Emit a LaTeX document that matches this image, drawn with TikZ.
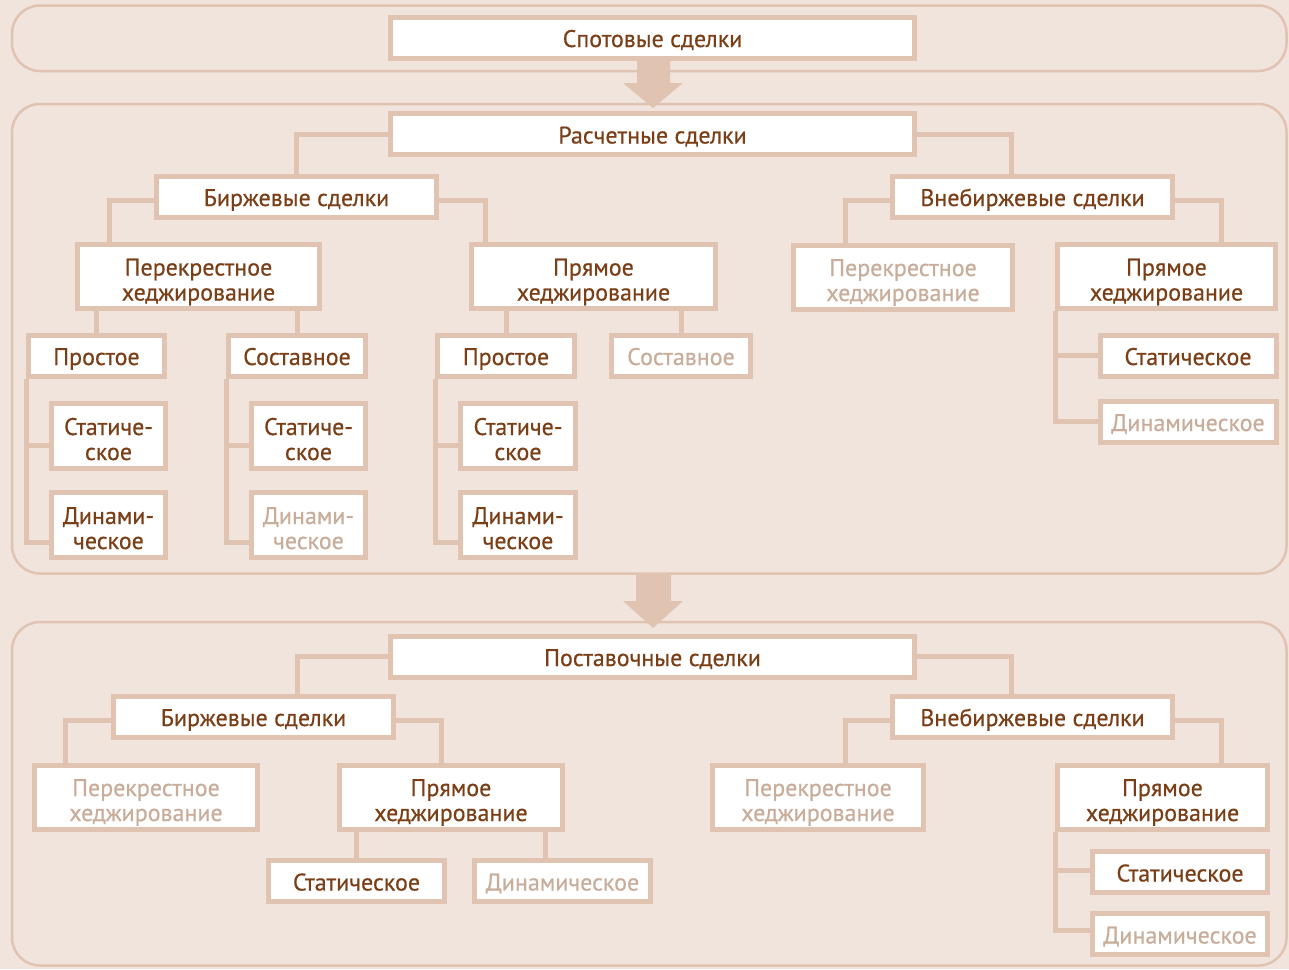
\documentclass[tikz,border=0pt]{standalone}
\usepackage{fontspec}
\setmainfont{PT Sans}
\newfontfamily\boxfont{PT Sans}[FakeBold=0.5]
\usetikzlibrary{calc}
\definecolor{bgc}{HTML}{F0E4DD}
\definecolor{brd}{HTML}{E0C4B1}
\definecolor{txt}{HTML}{7B3F17}
\definecolor{fad}{HTML}{C9AD9B}
\pgfdeclarelayer{back}
\pgfdeclarelayer{mid}
\pgfsetlayers{back,mid,main}
\begin{document}
\begin{tikzpicture}[x=1pt,y=-1pt,
 box/.style={draw=brd, line width=5pt, fill=white, text=txt,
   font=\boxfont\fontsize{24}{25}\selectfont, align=center, inner sep=0pt,
   minimum height=41pt, text height=19pt, text depth=0pt},
 tall/.style={minimum height=64pt, text height=48pt, text depth=0pt},
 faded/.style={text=fad},
 conn/.style={draw=brd, line width=5pt},
 frm/.style={draw=brd, line width=2.5pt, rounded corners=28pt}]
\useasboundingbox (0,0) rectangle (1289,969);

% ---------- nodes ----------
\node[box, minimum width=524pt] (spot) at (652.5,37.5) {Спотовые сделки};
\node[box, minimum width=524pt] (rasch) at (652.5,134) {Расчетные сделки};
\node[box, minimum width=280pt] (birzh1) at (296.5,196.5) {Биржевые сделки};
\node[box, minimum width=280pt] (vneb1) at (1032.5,196.5) {Внебиржевые сделки};
\node[box, tall, minimum width=242pt] (perekr1) at (198.5,276.5) {Перекрестное\\хеджирование};
\node[box, tall, minimum width=244pt] (pryam1) at (593.5,276.5) {Прямое\\хеджирование};
\node[box, tall, faded, minimum width=219pt] (perekr2) at (903,277) {Перекрестное\\хеджирование};
\node[box, tall, minimum width=218pt] (pryam2) at (1166.5,276.5) {Прямое\\хеджирование};
\node[box, minimum width=136pt] (prost1) at (96.5,355.5) {Простое};
\node[box, tall, minimum height=65pt, minimum width=114pt] (stat1) at (108.5,436) {Статиче-\\ское};
\node[box, tall, minimum height=65pt, minimum width=114pt] (din1) at (108.5,525) {Динами-\\ческое};
\node[box, minimum width=137pt] (sost1) at (297,355.5) {Составное};
\node[box, tall, minimum height=65pt, minimum width=114pt] (stat2) at (308.5,436) {Статиче-\\ское};
\node[box, tall, faded, minimum height=65pt, minimum width=114pt] (din2) at (308.5,525) {Динами-\\ческое};
\node[box, minimum width=137pt] (prost2) at (506,355.5) {Простое};
\node[box, tall, minimum height=65pt, minimum width=115pt] (stat3) at (518,436) {Статиче-\\ское};
\node[box, tall, minimum height=65pt, minimum width=115pt] (din3) at (518,525) {Динами-\\ческое};
\node[box, faded, minimum width=139pt] (sost2) at (681,355.5) {Составное};
\node[box, minimum width=176pt] (stat4) at (1188,355.5) {Статическое};
\node[box, faded, minimum width=176pt] (din4) at (1188,421.5) {Динамическое};

\node[box, minimum width=524pt] (post) at (652.5,656.5) {Поставочные сделки};
\node[box, minimum width=280pt] (birzh2) at (253.5,716.5) {Биржевые сделки};
\node[box, minimum width=280pt] (vneb2) at (1032.5,716.5) {Внебиржевые сделки};
\node[box, tall, faded, minimum width=223pt] (perekr3) at (146,797) {Перекрестное\\хеджирование};
\node[box, tall, minimum width=223pt] (pryam3) at (451,797) {Прямое\\хеджирование};
\node[box, tall, faded, minimum width=211pt] (perekr4) at (818,797) {Перекрестное\\хеджирование};
\node[box, tall, minimum width=210pt] (pryam4) at (1162.5,797) {Прямое\\хеджирование};
\node[box, minimum width=176pt] (stat5) at (356.5,881) {Статическое};
\node[box, faded, minimum width=176pt] (din5) at (562.5,881) {Динамическое};
\node[box, minimum width=175pt] (stat6) at (1180,872) {Статическое};
\node[box, faded, minimum width=175pt] (din6) at (1180,934) {Динамическое};

% ---------- background and frames ----------
\begin{pgfonlayer}{back}
\fill[bgc] (0,0) rectangle (1289,969);
\draw[frm] (12,5.5) rectangle (1286.5,71);
\draw[frm] (12,104) rectangle (1286.5,573.5);
\draw[frm] (12,622) rectangle (1286.5,965.5);
\end{pgfonlayer}

% ---------- connectors ----------
\begin{pgfonlayer}{mid}
% arrows
\fill[brd] (637,60) -- (670,60) -- (670,83) -- (683,83) -- (653,108) -- (623,83) -- (637,83) -- cycle;
\fill[brd] (636,574) -- (671,574) -- (671,601) -- (683,601) -- (653,628) -- (623,601) -- (636,601) -- cycle;

% top block
\coordinate (cv1) at ($(vneb1.north)+(-21.5,0)$);
\draw[conn] (rasch.west) -| (birzh1.north);
\draw[conn] (rasch.east) -| (cv1);
\coordinate (b1l) at ($(birzh1.west)+(0,3.5)$);
\coordinate (b1r) at ($(birzh1.east)+(0,3.5)$);
\coordinate (p1t) at ($(perekr1.north)+(-89.5,0)$);
\coordinate (q1t) at ($(pryam1.north)+(-108.5,0)$);
\draw[conn] (b1l) -| (p1t);
\draw[conn] (b1r) -| (q1t);
\coordinate (v1l) at ($(vneb1.west)+(0,3.5)$);
\coordinate (v1r) at ($(vneb1.east)+(0,3.5)$);
\coordinate (p2t) at ($(perekr2.north)+(-58,0)$);
\coordinate (q2t) at ($(pryam2.north)+(54.5,0)$);
\draw[conn] (v1l) -| (p2t);
\draw[conn] (v1r) -| (q2t);
\draw[conn] (prost1.north) -- (prost1.north |- perekr1.south);
\draw[conn] (sost1.north) -- (sost1.north |- perekr1.south);
\draw[conn] (prost2.north) -- (prost2.north |- pryam1.south);
\draw[conn] (sost2.north) -- (sost2.north |- pryam1.south);
% trunks
\coordinate (s1) at ($(stat1.west)+(0,9)$);
\coordinate (d1) at ($(din1.west)+(0,17)$);
\draw[conn] (prost1.south west) |- (d1);
\draw[conn] (s1) -- (s1 -| prost1.west);
\coordinate (s2) at ($(stat2.west)+(0,9)$);
\coordinate (d2) at ($(din2.west)+(0,17)$);
\draw[conn] (sost1.south west) |- (d2);
\draw[conn] (s2) -- (s2 -| sost1.west);
\coordinate (s3) at ($(stat3.west)+(0,9)$);
\coordinate (d3) at ($(din3.west)+(0,17)$);
\draw[conn] (prost2.south west) |- (d3);
\draw[conn] (s3) -- (s3 -| prost2.west);
\draw[conn] (pryam2.south west) |- (din4.west);
\draw[conn] (stat4.west) -- (stat4.west -| pryam2.west);

% bottom block
\coordinate (b2t) at ($(birzh2.north)+(43.5,0)$);
\coordinate (v2t) at ($(vneb2.north)+(-21.5,0)$);
\draw[conn] (post.west) -| (b2t);
\draw[conn] (post.east) -| (v2t);
\coordinate (b2l) at ($(birzh2.west)+(0,3.5)$);
\coordinate (b2r) at ($(birzh2.east)+(0,3.5)$);
\coordinate (p3t) at ($(perekr3.north)+(-81,0)$);
\coordinate (q3t) at ($(pryam3.north)+(-10,0)$);
\draw[conn] (b2l) -| (p3t);
\draw[conn] (b2r) -| (q3t);
\coordinate (v2l) at ($(vneb2.west)+(0,3.5)$);
\coordinate (v2r) at ($(vneb2.east)+(0,3.5)$);
\coordinate (p4t) at ($(perekr4.north)+(27,0)$);
\coordinate (q4t) at ($(pryam4.north)+(58.5,0)$);
\draw[conn] (v2l) -| (p4t);
\draw[conn] (v2r) -| (q4t);
\coordinate (d5t) at ($(din5.north)+(-17.5,0)$);
\draw[conn] (stat5.north) -- (stat5.north |- pryam3.south);
\draw[conn] (d5t) -- (d5t |- pryam3.south);
\coordinate (s6) at ($(stat6.west)+(0,-2)$);
\coordinate (d6) at ($(din6.west)+(0,-4)$);
\draw[conn] (pryam4.south west) |- (d6);
\draw[conn] (s6) -- (s6 -| pryam4.west);
\end{pgfonlayer}
\end{tikzpicture}
\end{document}
